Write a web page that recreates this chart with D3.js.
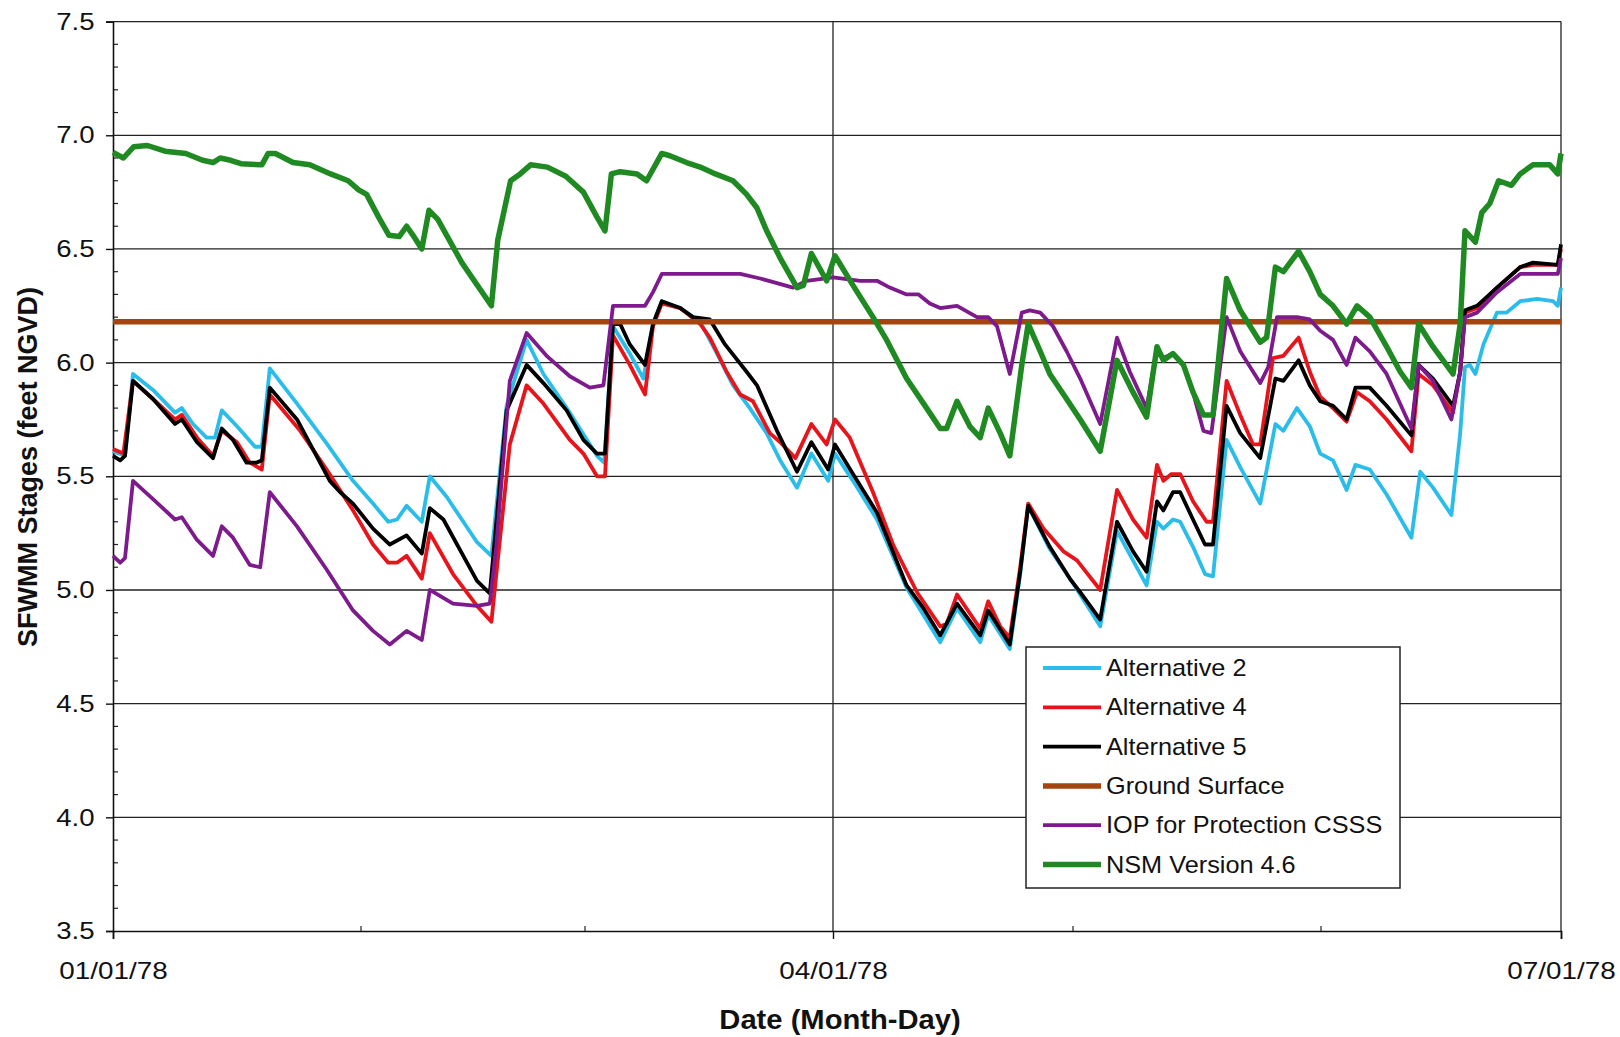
<!DOCTYPE html>
<html><head><meta charset="utf-8">
<script src="https://cdn.jsdelivr.net/npm/d3@7/dist/d3.min.js"></script>
<style>
html,body{margin:0;padding:0;background:#fff;}
svg{display:block;font-family:"Liberation Sans",Arial,sans-serif;}
</style></head><body>
<svg id="chart" width="1620" height="1037"></svg>
<script>
// ---- data (day offset from 01/01/78, stage in feet NGVD) ----
const seriesNames = ["Alternative 2","Alternative 4","Alternative 5","Ground Surface","IOP for Protection CSSS","NSM Version 4.6"];
const seriesColors = ["#2bbde9","#e8141b","#000000","#a4440f","#7d1a8c","#1f8a22"];
const seriesWidths = [3.8,3.8,3.8,5.5,3.8,5.5];

const alt2 = [[0,5.61],[1.5,5.59],[2.5,5.95],[5,5.88],[7.75,5.78],[8.6,5.80],[10,5.73],[11.7,5.67],[12.75,5.67],[13.6,5.79],[15.5,5.72],[17.75,5.63],[18.6,5.63],[19.6,5.975],[23,5.82],[26.7,5.645],[30,5.48],[32.5,5.38],[34.4,5.30],[35.5,5.31],[36.7,5.37],[38.6,5.30],[39.6,5.50],[41.7,5.41],[45.5,5.21],[47.3,5.15],[49.2,5.81],[51.7,6.10],[53.8,5.95],[57.1,5.78],[60.5,5.59],[61.4,5.56],[62.5,6.16],[64.6,6.04],[66.3,5.93],[67.5,6.17],[68.6,6.27],[70.9,6.24],[73.4,6.18],[75.5,6.04],[77.5,5.90],[79.6,5.80],[81.7,5.69],[83.4,5.57],[85.5,5.45],[87.3,5.60],[89.4,5.48],[90.25,5.60],[92.5,5.48],[95.5,5.31],[99.2,5.01],[103.4,4.77],[105.5,4.92],[108.4,4.77],[109.4,4.89],[112.1,4.74],[113.4,5.07],[114.4,5.37],[117.1,5.18],[120,5.03],[123.4,4.84],[125.5,5.26],[127.5,5.13],[129.2,5.02],[130.5,5.30],[131.3,5.27],[132.5,5.31],[133.4,5.30],[135,5.19],[136.5,5.07],[137.5,5.06],[139.2,5.66],[140.9,5.54],[143.4,5.38],[145.3,5.73],[146.3,5.70],[148,5.80],[149.6,5.72],[150.9,5.60],[152.5,5.57],[154.2,5.44],[155.3,5.55],[157.1,5.53],[159.2,5.42],[162.3,5.23],[163.4,5.52],[165,5.45],[167.3,5.33],[168.4,5.69],[169,5.98],[169.6,5.99],[170.3,5.95],[171.3,6.08],[173,6.22],[174.2,6.22],[175.9,6.27],[178,6.28],[180,6.27],[180.6,6.25],[181,6.33]];

const alt4 = [[0,5.62],[1.3,5.60],[2.5,5.92],[5,5.84],[7.75,5.75],[8.6,5.77],[10.5,5.67],[12.5,5.59],[13.6,5.70],[15.5,5.65],[17.1,5.56],[18.6,5.53],[19.6,5.86],[23.4,5.70],[26.7,5.53],[30,5.35],[32.5,5.20],[34.4,5.12],[35.5,5.12],[36.7,5.15],[38.6,5.05],[39.6,5.25],[42.5,5.07],[45.5,4.93],[47.3,4.86],[49.6,5.64],[51.7,5.90],[53.8,5.82],[57.1,5.66],[58.8,5.60],[60.5,5.50],[61.5,5.50],[62.5,6.12],[64.6,5.99],[66.5,5.86],[67.5,6.16],[68.6,6.26],[70.9,6.24],[73.4,6.17],[74.6,6.11],[76.7,5.96],[78.4,5.86],[80,5.83],[82.1,5.69],[83.4,5.65],[85.3,5.58],[87.3,5.73],[89.2,5.64],[90.25,5.75],[92.1,5.67],[95,5.43],[97.5,5.20],[100.5,4.99],[103.4,4.84],[104.2,4.85],[105.5,4.98],[108.4,4.83],[109.4,4.95],[110.9,4.84],[112.1,4.79],[113.4,5.10],[114.4,5.38],[116.3,5.27],[118.8,5.17],[120.5,5.13],[123.4,5.00],[125.5,5.44],[127.5,5.31],[129.2,5.23],[130.5,5.55],[131.3,5.48],[132.3,5.51],[133.4,5.51],[135,5.39],[136.7,5.30],[137.5,5.30],[139.2,5.92],[140.9,5.77],[142.5,5.64],[143.4,5.64],[145,6.02],[146.3,6.03],[148.2,6.11],[149.6,5.96],[150.9,5.85],[152.5,5.80],[154.2,5.74],[155.5,5.87],[157.1,5.83],[159.2,5.75],[162.3,5.61],[163.2,5.95],[165,5.90],[167.5,5.78],[168.4,5.96],[169,6.22],[170.5,6.24],[173,6.33],[175.9,6.42],[177.5,6.43],[180.6,6.43],[181,6.50]];

const alt5 = [[0,5.59],[0.9,5.57],[1.5,5.59],[2.5,5.92],[5,5.84],[7.75,5.73],[8.6,5.75],[10.5,5.65],[12.5,5.58],[13.6,5.71],[15,5.66],[16.7,5.56],[17.9,5.56],[18.6,5.57],[19.6,5.89],[23,5.75],[27.1,5.48],[28.4,5.43],[30,5.38],[32.5,5.27],[34.6,5.20],[36.7,5.24],[38.6,5.16],[39.6,5.36],[41.3,5.31],[45.5,5.04],[47.1,4.985],[49.2,5.79],[51.7,5.99],[53.8,5.91],[56.7,5.79],[58.8,5.66],[60.5,5.60],[61.5,5.60],[62.5,6.17],[63.4,6.17],[64.6,6.08],[66.5,5.99],[67.5,6.17],[68.6,6.27],[70.9,6.24],[72.5,6.20],[74.6,6.19],[76.5,6.08],[79.2,5.96],[80.5,5.90],[83,5.70],[85.5,5.52],[87.3,5.65],[89.4,5.53],[90.25,5.64],[92.5,5.51],[95.5,5.34],[99.2,5.02],[101.3,4.92],[103.4,4.80],[105.5,4.94],[108.4,4.80],[109.4,4.91],[112.1,4.76],[113.4,5.08],[114.4,5.37],[117.1,5.19],[119.6,5.05],[120.9,4.99],[123.4,4.87],[125.5,5.30],[127.5,5.17],[129.2,5.08],[130.5,5.39],[131.3,5.35],[132.5,5.43],[133.4,5.43],[135,5.31],[136.5,5.20],[137.5,5.20],[139.2,5.81],[140.9,5.69],[143.4,5.58],[145.3,5.93],[146.3,5.92],[148.2,6.01],[149.6,5.90],[150.9,5.83],[152.5,5.81],[154.2,5.75],[155.3,5.89],[157.1,5.89],[159.2,5.81],[162.3,5.68],[163.2,5.99],[165,5.93],[167.5,5.81],[168.4,5.96],[169,6.23],[170.5,6.25],[173,6.33],[175.9,6.42],[177.5,6.44],[180.6,6.43],[181,6.52]];

const groundSurface = [[0,6.18],[181,6.18]];

const iop = [[0,5.15],[0.9,5.12],[1.5,5.14],[2.5,5.48],[5,5.40],[7.75,5.31],[8.6,5.32],[10.5,5.22],[12.5,5.15],[13.6,5.28],[15,5.23],[17.1,5.11],[18.4,5.10],[19.6,5.43],[23,5.28],[26.7,5.09],[30,4.91],[32.5,4.82],[34.6,4.76],[36.7,4.82],[38.6,4.78],[39.6,5.00],[42.5,4.94],[45.5,4.93],[47.1,4.94],[47.9,5.19],[49.6,5.92],[51.7,6.13],[54.2,6.03],[57.1,5.94],[59.6,5.89],[61.3,5.90],[62.5,6.25],[64.2,6.25],[66.5,6.25],[67.5,6.31],[68.6,6.39],[70.9,6.39],[78.4,6.39],[80.9,6.37],[83,6.35],[85,6.33],[86.7,6.36],[90,6.375],[93.4,6.36],[95.5,6.36],[97.1,6.33],[99.2,6.30],[100.7,6.30],[102.1,6.26],[103.4,6.24],[105.5,6.25],[108,6.20],[109.4,6.20],[110.5,6.16],[112.1,5.95],[113.6,6.22],[114.6,6.23],[115.9,6.22],[117.5,6.16],[119.2,6.05],[120.9,5.93],[123.4,5.73],[125.5,6.11],[127.1,5.96],[129.2,5.80],[130.5,6.07],[131.3,6.02],[132.5,6.04],[133.8,5.99],[135,5.87],[136.3,5.70],[137.3,5.69],[139.2,6.20],[140.9,6.05],[143.4,5.91],[144.4,5.98],[145.5,6.20],[148,6.20],[149.6,6.19],[150.9,6.14],[152.5,6.10],[154.2,5.99],[155.3,6.11],[157.1,6.05],[159.2,5.95],[162.3,5.71],[163.2,5.99],[165,5.92],[167.3,5.75],[168.4,5.96],[169,6.20],[170.5,6.22],[173,6.31],[175.9,6.39],[177.5,6.39],[180.6,6.39],[181,6.46]];

const nsm = [[0,6.925],[1.3,6.90],[2.6,6.95],[4.3,6.955],[6.5,6.93],[9.1,6.92],[11.2,6.89],[12.5,6.88],[13.4,6.90],[14.7,6.89],[16,6.875],[18.6,6.87],[19.4,6.92],[20.3,6.92],[22.5,6.88],[24.6,6.87],[27.2,6.83],[29.4,6.80],[30.7,6.76],[31.7,6.74],[33.2,6.64],[34.5,6.56],[35.8,6.555],[36.7,6.60],[37.6,6.555],[38.6,6.50],[39.5,6.67],[40.6,6.63],[43.6,6.44],[47.3,6.25],[48.1,6.54],[49.7,6.80],[50.9,6.83],[52.2,6.87],[54.3,6.86],[56.6,6.82],[58.8,6.75],[60.5,6.64],[61.5,6.58],[62.3,6.83],[63.4,6.84],[65.5,6.83],[66.7,6.80],[68.6,6.92],[69.6,6.91],[71.7,6.88],[73.4,6.86],[75.3,6.83],[77.5,6.80],[79.2,6.74],[80.5,6.68],[81.7,6.58],[83.4,6.46],[85.5,6.33],[86.3,6.34],[87.3,6.48],[89.2,6.36],[90.25,6.47],[92.5,6.34],[95,6.20],[96.7,6.10],[99.2,5.93],[101.7,5.80],[103.4,5.71],[104.2,5.71],[105.5,5.83],[107.1,5.72],[108.4,5.67],[109.4,5.80],[110.9,5.69],[112.1,5.59],[113.6,5.99],[114.4,6.17],[115.9,6.05],[117.1,5.95],[119.2,5.84],[120.9,5.75],[123.4,5.61],[125.5,6.01],[127.5,5.87],[129.2,5.76],[130.5,6.07],[131.3,6.01],[132.5,6.04],[133.8,5.99],[135,5.87],[136.3,5.77],[137.5,5.77],[139.2,6.37],[140.9,6.23],[143.4,6.09],[144.2,6.11],[145.3,6.42],[146.3,6.40],[148.2,6.49],[149.6,6.40],[150.9,6.30],[152.5,6.25],[154.2,6.17],[155.5,6.25],[157.1,6.20],[159.2,6.07],[160.9,5.96],[162.3,5.89],[163.2,6.17],[165,6.07],[167.5,5.95],[168.4,6.17],[169,6.58],[170.3,6.53],[171.1,6.66],[172.1,6.70],[173.2,6.80],[174.8,6.78],[175.9,6.83],[177.5,6.87],[179.6,6.87],[180.6,6.83],[181,6.92]];

const yTicks = [3.5,4.0,4.5,5.0,5.5,6.0,6.5,7.0,7.5];
const yMinorTicks = d3.range(35,76).map(d => d/10);
const xTickDays = [0,90,181];
const xTickLabels = ["01/01/78","04/01/78","07/01/78"];
const xMinorDays = [31,59,120,151];
const yTitle = "SFWMM Stages (feet NGVD)";
const xTitle = "Date (Month-Day)";

// ---- layout ----
const L = 113, R = 1561, T = 21.6, B = 931;
const svg = d3.select("#chart");
const x = d3.scaleLinear().domain([0,181]).range([L,R]);
const y = d3.scaleLinear().domain([3.5,7.5]).range([B,T]);

// gridlines
svg.append("g").selectAll("line").data(yTicks.filter(v=>v>3.5)).join("line")
  .attr("x1",L).attr("x2",R).attr("y1",d=>y(d)).attr("y2",d=>y(d))
  .attr("stroke","#222").attr("stroke-width",1.3);
svg.append("g").selectAll("line").data(xTickDays.filter(d=>d>0)).join("line")
  .attr("x1",d=>x(d)).attr("x2",d=>x(d)).attr("y1",T).attr("y2",B)
  .attr("stroke","#222").attr("stroke-width",1.3);

// minor ticks (inward)
svg.append("g").selectAll("line").data(yMinorTicks.filter(v=>Math.round(v*10)%5!==0)).join("line")
  .attr("x1",L).attr("x2",L+5).attr("y1",d=>y(d)).attr("y2",d=>y(d))
  .attr("stroke","#222").attr("stroke-width",1.2);
svg.append("g").selectAll("line").data(xMinorDays).join("line")
  .attr("x1",d=>x(d)).attr("x2",d=>x(d)).attr("y1",B).attr("y2",B-5)
  .attr("stroke","#222").attr("stroke-width",1.2);

// axes
const yAxis = d3.axisLeft(y).tickValues(yTicks).tickFormat(d3.format(".1f")).tickSize(7).tickPadding(9);
const gy = svg.append("g").attr("transform",`translate(${L},0)`).call(yAxis);
const xAxis = d3.axisBottom(x).tickValues(xTickDays).tickFormat((d,i)=>xTickLabels[i]).tickSize(8).tickPadding(20);
const gx = svg.append("g").attr("transform",`translate(0,${B})`).call(xAxis);
[gy,gx].forEach(g=>{
  g.select(".domain").attr("stroke","#111").attr("stroke-width",1.6);
  g.selectAll(".tick line").attr("stroke","#111").attr("stroke-width",1.4);
  g.selectAll(".tick text").attr("fill","#111").attr("font-size",24)
    .attr("font-family","'Liberation Sans',Arial,sans-serif");
});
gy.selectAll(".tick text").attr("transform","scale(1.15,1)");
gx.selectAll(".tick text").attr("dy","0.85em").attr("transform","scale(1.16,1)");

// series lines
const line = d3.line().x(d=>x(d[0])).y(d=>y(d[1]));
const allSeries = [alt2, alt4, alt5, groundSurface, iop, nsm];
const plot = svg.append("g");
allSeries.forEach((s,i)=>{
  plot.append("path").datum(s).attr("d",line)
    .attr("fill","none").attr("stroke",seriesColors[i]).attr("stroke-width",seriesWidths[i])
    .attr("stroke-linejoin","round").attr("stroke-linecap","butt");
});

// axis titles
svg.append("text").attr("transform","translate(840,1029) scale(1.08,1)").attr("text-anchor","middle")
  .attr("font-size",27).attr("font-weight","bold").attr("fill","#111").text(xTitle);
svg.append("text").attr("transform","translate(37,467) rotate(-90)").attr("text-anchor","middle")
  .attr("font-size",27).attr("font-weight","bold").attr("fill","#111").text(yTitle);

// legend
const lg = svg.append("g");
lg.append("rect").attr("x",1026).attr("y",647).attr("width",374).attr("height",241)
  .attr("fill","#fff").attr("stroke","#222").attr("stroke-width",1.5);
const rowY = i => 668 + i*39.3;
seriesNames.forEach((n,i)=>{
  lg.append("line").attr("x1",1043).attr("x2",1101).attr("y1",rowY(i)).attr("y2",rowY(i))
    .attr("stroke",seriesColors[i]).attr("stroke-width",seriesWidths[i]);
  lg.append("text").attr("transform",`translate(1106,${rowY(i)}) scale(1.1,1)`).attr("dy","0.35em")
    .attr("font-size",23).attr("fill","#111").text(n);
});
</script>
</body></html>
